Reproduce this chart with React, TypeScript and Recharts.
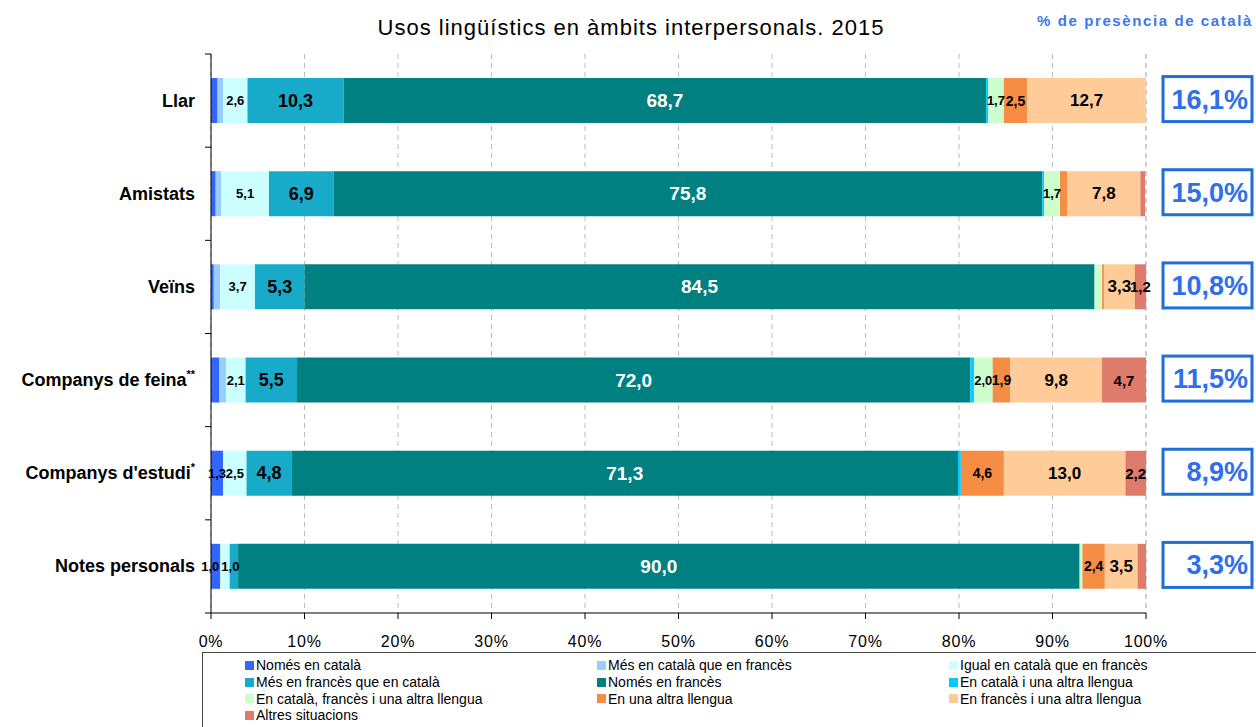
import { BarChart, Bar, XAxis, YAxis, CartesianGrid, LabelList } from "recharts";

const categories = ["Llar", "Amistats", "Veïns", "Companys de feina", "Companys d'estudi", "Notes personals"];
const categoryMarks = ["", "", "", "**", "*", ""];

const nomesCatala = [0.7, 0.5, 0.3, 0.9, 1.3, 1.0];
const mesCatala = [0.6, 0.6, 0.7, 0.7, 0, 0];
const igual = [2.6, 5.1, 3.7, 2.1, 2.5, 1.0];
const mesFrances = [10.3, 6.9, 5.3, 5.5, 4.8, 0.9];
const nomesFrances = [68.7, 75.8, 84.5, 72.0, 71.3, 90.0];
const catalaAltra = [0.2, 0.2, 0, 0.4, 0.3, 0];
const catalaFrancesAltra = [1.7, 1.7, 0.8, 2.0, 0, 0.3];
const altraLlengua = [2.5, 0.8, 0.2, 1.9, 4.6, 2.4];
const francesAltra = [12.7, 7.8, 3.3, 9.8, 13.0, 3.5];
const altres = [0, 0.5, 1.2, 4.7, 2.2, 0.9];

const presenciaCatala = [16.1, 15.0, 10.8, 11.5, 8.9, 3.3];

const xTicks = [0, 10, 20, 30, 40, 50, 60, 70, 80, 90, 100];

const series = [
  { key: "s1", name: "Només en català", values: nomesCatala, color: "#3366FF", font: 13, text: "#000", narrow: "end" },
  { key: "s2", name: "Més en català que en francès", values: mesCatala, color: "#99CCFF", font: 13, text: "#000" },
  { key: "s3", name: "Igual en català que en francès", values: igual, color: "#CCFFFF", font: 13, text: "#000", narrow: "start" },
  { key: "s4", name: "Més en francès que en català", values: mesFrances, color: "#17ABC9", font: 18, text: "#000" },
  { key: "s5", name: "Només en francès", values: nomesFrances, color: "#008080", font: 19, text: "#fff" },
  { key: "s6", name: "En català i una altra llengua", values: catalaAltra, color: "#00CCFF", font: 13, text: "#000" },
  { key: "s7", name: "En català, francès i una altra llengua", values: catalaFrancesAltra, color: "#CCFFCC", font: 13, text: "#000" },
  { key: "s8", name: "En una altra llengua", values: altraLlengua, color: "#F58D45", font: 14, text: "#000" },
  { key: "s9", name: "En francès i una altra llengua", values: francesAltra, color: "#FFCC99", font: 17, text: "#000" },
  { key: "s10", name: "Altres situacions", values: altres, color: "#DE7B6B", font: 15, text: "#000" },
];

const data = categories.map((name, i) => {
  const row: any = { name, mark: categoryMarks[i], presencia: presenciaCatala[i] };
  series.forEach((s) => (row[s.key] = s.values[i]));
  return row;
});

const W = 1256;
const H = 727;
const PLOT_TOP = 54;
const PLOT_BOTTOM = 613;
const PLOT_LEFT = 211;
const PLOT_RIGHT = 1146;
const BAND = (PLOT_BOTTOM - PLOT_TOP) / categories.length;

const fmt = (v: number) => v.toFixed(1).replace(".", ",");
const FONT = "Arial, 'Liberation Sans', sans-serif";

const makeLabel = (s: any) => (props: any) => {
  const { x, y, width, height, value } = props;
  if (value == null || value < 1) return null;
  const txt = fmt(value);
  const w = Number(width);
  // rough text width, used to push labels off very thin segments
  const textW = txt.length * s.font * 0.48;
  let anchor: any = "middle";
  let tx = Number(x) + w / 2;
  if (s.narrow && textW > w + 8) {
    anchor = s.narrow;
    tx = s.narrow === "end" ? Number(x) + w - 1 : Number(x) + 1;
  }
  return (
    <text
      x={tx}
      y={Number(y) + Number(height) / 2}
      textAnchor={anchor}
      dominantBaseline="central"
      fontFamily={FONT}
      fontWeight="bold"
      fontSize={s.font}
      fill={s.text}
    >
      {txt}
    </text>
  );
};

const CategoryTick = (props: any) => {
  const { x, y, payload, index } = props;
  const i = payload.index ?? index;
  const row = data[i] || data.find((d) => d.name === payload.value);
  const last = i === categories.length - 1;
  return (
    <g>
      <line x1={PLOT_LEFT - 6} x2={PLOT_LEFT} y1={y - BAND / 2} y2={y - BAND / 2} stroke="#000" />
      {last && <line x1={PLOT_LEFT - 6} x2={PLOT_LEFT} y1={y + BAND / 2} y2={y + BAND / 2} stroke="#000" />}
      <text x={x - 8} y={y} textAnchor="end" dominantBaseline="central" fontFamily={FONT} fontWeight="bold" fontSize={18} fill="#000">
        {payload.value}
        {row && row.mark ? <tspan fontSize={11} dy={-6}>{row.mark}</tspan> : null}
      </text>
      {row && (
        <g>
          <rect x={1163} y={y - 24} width={89} height={45} fill="#fff" stroke="#1F6FD6" strokeWidth={3} />
          <text x={1248} y={y - 1} textAnchor="end" dominantBaseline="central" fontFamily={FONT} fontWeight="bold" fontSize={27} fill="#2F6FEA">
            {fmt(row.presencia)}%
          </text>
        </g>
      )}
    </g>
  );
};

export default function App() {
  const rows: any[] = [];
  for (let i = 0; i < series.length; i += 3) rows.push(series.slice(i, i + 3));
  return (
    <div style={{ position: "relative", width: W, height: H, background: "#fff", overflow: "hidden" }}>
      <style>{"body{margin:0}"}</style>
      <div style={{ position: "absolute", left: 0, width: 1262, top: 15, textAlign: "center", fontFamily: FONT, fontSize: 22, letterSpacing: 1, color: "#000" }}>
        Usos lingüístics en àmbits interpersonals. 2015
      </div>
      <div style={{ position: "absolute", right: 3, top: 12, fontFamily: FONT, fontSize: 15, letterSpacing: 1.6, fontWeight: "bold", color: "#3A78EC" }}>
        % de presència de català
      </div>
      <BarChart
        width={W}
        height={H}
        data={data}
        layout="vertical"
        margin={{ top: PLOT_TOP, right: W - PLOT_RIGHT, left: 0, bottom: 0 }}
        barSize={45}
      >
        <CartesianGrid horizontal={false} stroke="#BDBDBD" strokeDasharray="5 4" />
        <XAxis
          type="number"
          domain={[0, 100]}
          ticks={xTicks}
          tickFormatter={(v) => v + "%"}
          height={H - PLOT_BOTTOM}
          stroke="#000"
          tick={{ fill: "#000", fontSize: 16, fontFamily: FONT, letterSpacing: 0.8 }}
          tickMargin={17}
          interval={0}
        />
        <YAxis
          type="category"
          dataKey="name"
          width={PLOT_LEFT}
          stroke="#000"
          tickLine={false}
          tick={<CategoryTick />}
          interval={0}
        />
        {series.map((s) => (
          <Bar key={s.key} dataKey={s.key} name={s.name} stackId="a" fill={s.color} isAnimationActive={false}>
            <LabelList dataKey={s.key} content={makeLabel(s)} />
          </Bar>
        ))}
      </BarChart>
      <div
        style={{
          position: "absolute",
          left: 202,
          top: 652,
          width: 1060,
          height: 90,
          border: "1px solid #444",
          boxSizing: "border-box",
          fontFamily: FONT,
          fontSize: 14,
          color: "#000",
          paddingTop: 4,
        }}
      >
        {rows.map((r, ri) => (
          <div key={ri} style={{ position: "relative", height: 16.7 }}>
            {r.map((s: any, ci: number) => (
              <div key={s.key} style={{ position: "absolute", left: 42 + ci * 352, top: 0, display: "flex", alignItems: "center", height: 16.7, whiteSpace: "nowrap" }}>
                <span style={{ display: "inline-block", width: 9, height: 9, background: s.color, marginRight: 2 }} />
                {s.name}
              </div>
            ))}
          </div>
        ))}
      </div>
    </div>
  );
}
